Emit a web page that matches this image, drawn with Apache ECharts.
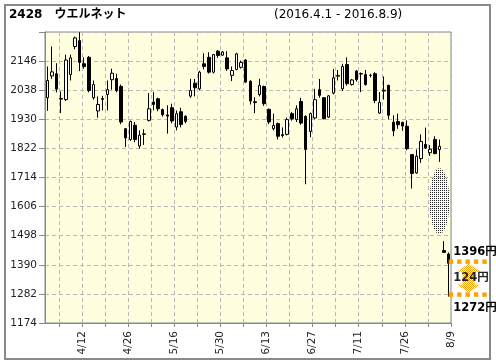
<!DOCTYPE html>
<html><head><meta charset="utf-8">
<script src="https://cdn.jsdelivr.net/npm/echarts@6/dist/echarts.min.js"></script>
<style>html,body{margin:0;padding:0;background:#fff}#c{width:496px;height:364px}</style>
</head><body><div id="c"></div>
<script>
const dates = ['4/1','4/4','4/5','4/6','4/7','4/8','4/11','4/12','4/13','4/14','4/15','4/18','4/19','4/20','4/21','4/22','4/25','4/26','4/27','4/28',
'5/2','5/6','5/9','5/10','5/11','5/12','5/13','5/16','5/17','5/18','5/19','5/20','5/23','5/24','5/25','5/26','5/27','5/30','5/31',
'6/1','6/2','6/3','6/6','6/7','6/8','6/9','6/10','6/13','6/14','6/15','6/16','6/17','6/20','6/21','6/22','6/23','6/24','6/27','6/28','6/29','6/30',
'7/1','7/4','7/5','7/6','7/7','7/8','7/11','7/12','7/13','7/14','7/15','7/19','7/20','7/21','7/22','7/25','7/26','7/27','7/28','7/29',
'8/1','8/2','8/3','8/4','8/5','8/8','8/9'];
const opens  = [2010,2091,2099,2007,2003,2096,2200,2222,2136,2160,2010,1961,2007,2022,2077,2081,2052,1895,1855,1908,1831,1874,1926,1994,2006,1966,1946,1973,1901,1958,1941,2016,2064,2043,2136,2160,2105,2183,2168,2158,2093,2115,2123,2150,2071,1995,2022,2052,1967,1895,1914,1873,1874,1951,1929,1996,1941,1885,1935,2040,2010,1938,2027,2090,2043,2133,2059,2109,2098,2096,2093,2099,1953,2035,2056,1919,1922,1919,1904,1799,1731,1784,1837,1806,1855,1818,1443,1430];
const closes = [2074,2106,2042,2005,2150,2158,2232,2141,2126,2037,2059,1985,2004,2040,2101,2037,1920,1861,1922,1855,1871,1876,1969,1985,1969,1947,1942,1924,1951,1911,1922,2037,2047,2105,2126,2105,2170,2167,2180,2117,2111,2173,2141,2068,1998,1992,2056,1988,1920,1907,1867,1870,1929,1932,1969,1916,1818,1951,2003,2019,1932,2017,2084,2093,2126,2062,2076,2077,2100,2059,2093,2000,1993,2038,1945,1887,1910,1905,1821,1729,1793,1848,1824,1819,1803,1830,1436,1396];
const lows   = [1961,2080,2030,1953,1998,2074,2190,2109,2118,2030,2003,1936,1963,1963,2040,2030,1912,1827,1850,1845,1821,1835,1922,1963,1960,1940,1877,1915,1889,1900,1915,2010,2015,2038,2115,2100,2100,2158,2166,2110,2072,2112,2118,2065,1985,1953,2015,1980,1912,1889,1855,1862,1870,1925,1920,1910,1689,1864,1930,2010,1930,1935,2022,2074,2035,2055,2055,2070,2031,2055,2085,1990,1950,2003,1930,1867,1895,1887,1815,1673,1728,1768,1820,1794,1800,1772,1434,1272];
const highs  = [2126,2200,2138,2033,2170,2170,2237,2253,2160,2165,2074,2015,2017,2074,2118,2099,2059,1897,1925,1920,1889,1893,2027,2031,2010,1970,1982,1988,1963,1973,1945,2080,2080,2110,2175,2179,2172,2187,2183,2183,2126,2177,2148,2153,2075,2012,2080,2055,1970,1951,1918,1900,1936,1957,1982,2010,1945,1955,2043,2080,2012,2020,2117,2113,2136,2160,2080,2113,2104,2113,2099,2105,2031,2089,2058,1945,1951,1919,1926,1799,1818,1874,1899,1834,1867,1855,1478,1436];
const yTicks = [1174,1282,1390,1498,1606,1714,1822,1930,2038,2146];
const yMin = 1174, yMax = 2254;
const titleText = '2428　ウエルネット';
const periodText = '(2016.4.1 - 2016.8.9)';
const gapMark = [85, 1626, 4.3, 244];      // centre day index, centre price, width (days), height (price)
const rangeMark = [87, 1396, 1272];        // day index, upper price, lower price

const FONT = '"DejaVu Sans", "Noto Sans CJK JP", sans-serif';

function makePattern(color, cells, size) {
  const cv = document.createElement('canvas');
  cv.width = size; cv.height = size;
  const ctx = cv.getContext('2d');
  ctx.fillStyle = color;
  cells.forEach(c => ctx.fillRect(c[0], c[1], 1, 1));
  return {image: cv, repeat: 'repeat'};
}
const dotPattern = makePattern('#222', [[0,0]], 2);
const orangePattern = makePattern('#ffa000', [[0,0],[1,1]], 2);

const ohlc = opens.map((o, i) => [o, closes[i], lows[i], highs[i]]);
const labelCats = [''].concat(dates);

const chart = echarts.init(document.getElementById('c'), null, {renderer: 'canvas'});
chart.setOption({
  animation: false,
  backgroundColor: '#fff',
  title: [
    {text: titleText, left: 9, top: 9, padding: 0,
     textStyle: {fontSize: 12, fontWeight: 'bold', color: '#000', fontFamily: FONT}},
    {text: periodText, left: 274, top: 9, padding: 0,
     textStyle: {fontSize: 12, fontWeight: 'normal', color: '#000', fontFamily: FONT}}
  ],
  graphic: [
    {type: 'rect', shape: {x: 5, y: 5, width: 485, height: 354}, z: -10,
     style: {fill: 'transparent', stroke: '#8a8a8a', lineWidth: 2}}
  ],
  grid: {left: 45, top: 32, width: 406, height: 291, show: true,
         backgroundColor: '#ffffe0', borderColor: '#888', borderWidth: 1},
  xAxis: [
    {type: 'category', data: dates, boundaryGap: true, show: false},
    {type: 'category', data: labelCats, boundaryGap: false, position: 'bottom', offset: 0,
     axisLine: {show: true, lineStyle: {color: '#888'}},
     axisTick: {show: true, interval: (i) => i % 5 === 3, length: 4, lineStyle: {color: '#888'}},
     axisLabel: {show: true, interval: (i) => i % 10 === 8, rotate: 90, margin: 8,
                 color: '#222', fontSize: 10.5, fontFamily: FONT},
     splitLine: {show: true, interval: (i) => i % 5 === 3,
                 lineStyle: {color: '#b8b8b8', type: [4, 3], width: 1}}}
  ],
  yAxis: [
    {type: 'value', min: yMin, max: yMax, show: false, position: 'left'},
    {type: 'value', min: 0, max: yTicks.length, interval: 1, position: 'left',
     axisLine: {show: true, lineStyle: {color: '#888'}},
     axisTick: {show: true, length: 6, lineStyle: {color: '#888'}},
     axisLabel: {formatter: (v) => (yTicks[v] !== undefined ? String(yTicks[v]) : ''),
                 margin: 8, color: '#222', fontSize: 10.5, fontFamily: FONT},
     splitLine: {show: true, lineStyle: {color: '#b8b8b8', type: [4, 3], width: 1}}}
  ],
  series: [
    {type: 'candlestick', xAxisIndex: 0, yAxisIndex: 0, data: ohlc, barWidth: 3,
     silent: true,
     itemStyle: {color: '#fff', color0: '#000', borderColor: '#000', borderColor0: '#000',
                 borderColorDoji: '#000', borderWidth: 1}},
    {type: 'custom', xAxisIndex: 0, yAxisIndex: 0, silent: true, clip: false, z: 3,
     data: [gapMark],
     renderItem: function (params, api) {
       const c = api.coord([api.value(0), api.value(1)]);
       const bw = api.size([1, 0])[0];
       const rx = bw * api.value(2) / 2;
       const ry = api.size([0, api.value(3)], [api.value(0), api.value(1)])[1] / 2;
       const pts = [];
       for (let k = 0; k < 48; k++) {
         const a = k / 48 * Math.PI * 2;
         pts.push([c[0] + rx * Math.cos(a), c[1] + ry * Math.sin(a)]);
       }
       return {type: 'polygon', shape: {points: pts}, style: {fill: dotPattern, stroke: null}};
     }},
    {type: 'custom', xAxisIndex: 0, yAxisIndex: 0, silent: true, clip: false, z: 4,
     data: [rangeMark],
     renderItem: function (params, api) {
       const hi = api.value(1), lo = api.value(2);
       const pH = api.coord([api.value(0), hi]);
       const pL = api.coord([api.value(0), lo]);
       const x0 = pH[0];
       const ch = [];
       const yT = pH[1] - 1.5, yB = pL[1] - 2;
       const cx = x0 + 20;
       const top = yT + 2, bot = yB - 2;
       ch.push({type: 'polygon', shape: {points: [
         [cx, top], [cx + 12, top + 8], [cx + 6, top + 8], [cx + 6, bot - 8], [cx + 12, bot - 8],
         [cx, bot], [cx - 12, bot - 8], [cx - 6, bot - 8], [cx - 6, top + 8], [cx - 12, top + 8]]},
         style: {fill: orangePattern}});
       for (let k = 0; k < 5; k++) {
         ch.push({type: 'rect', shape: {x: x0 + k * 8.4, y: yT - 2.2, width: 4.4, height: 4.4}, style: {fill: '#ffa000'}});
         ch.push({type: 'rect', shape: {x: x0 + k * 8.4, y: yB - 2.2, width: 4.4, height: 4.4}, style: {fill: '#ffa000'}});
       }
       const ts = {fontSize: 11.5, fontWeight: 'bold', fontFamily: FONT, fill: '#000',
                   align: 'left', verticalAlign: 'middle'};
       ch.push({type: 'text', style: Object.assign({text: hi + '円', x: x0 + 4.5, y: pH[1] - 11}, ts)});
       ch.push({type: 'text', style: Object.assign({text: (hi - lo) + '円', x: x0 + 4.5, y: (yT + yB) / 2}, ts, {fill: '#222'})});
       ch.push({type: 'text', style: Object.assign({text: lo + '円', x: x0 + 4.5, y: pL[1] + 11}, ts)});
       return {type: 'group', children: ch};
     }}
  ]
});
</script>
</body></html>
